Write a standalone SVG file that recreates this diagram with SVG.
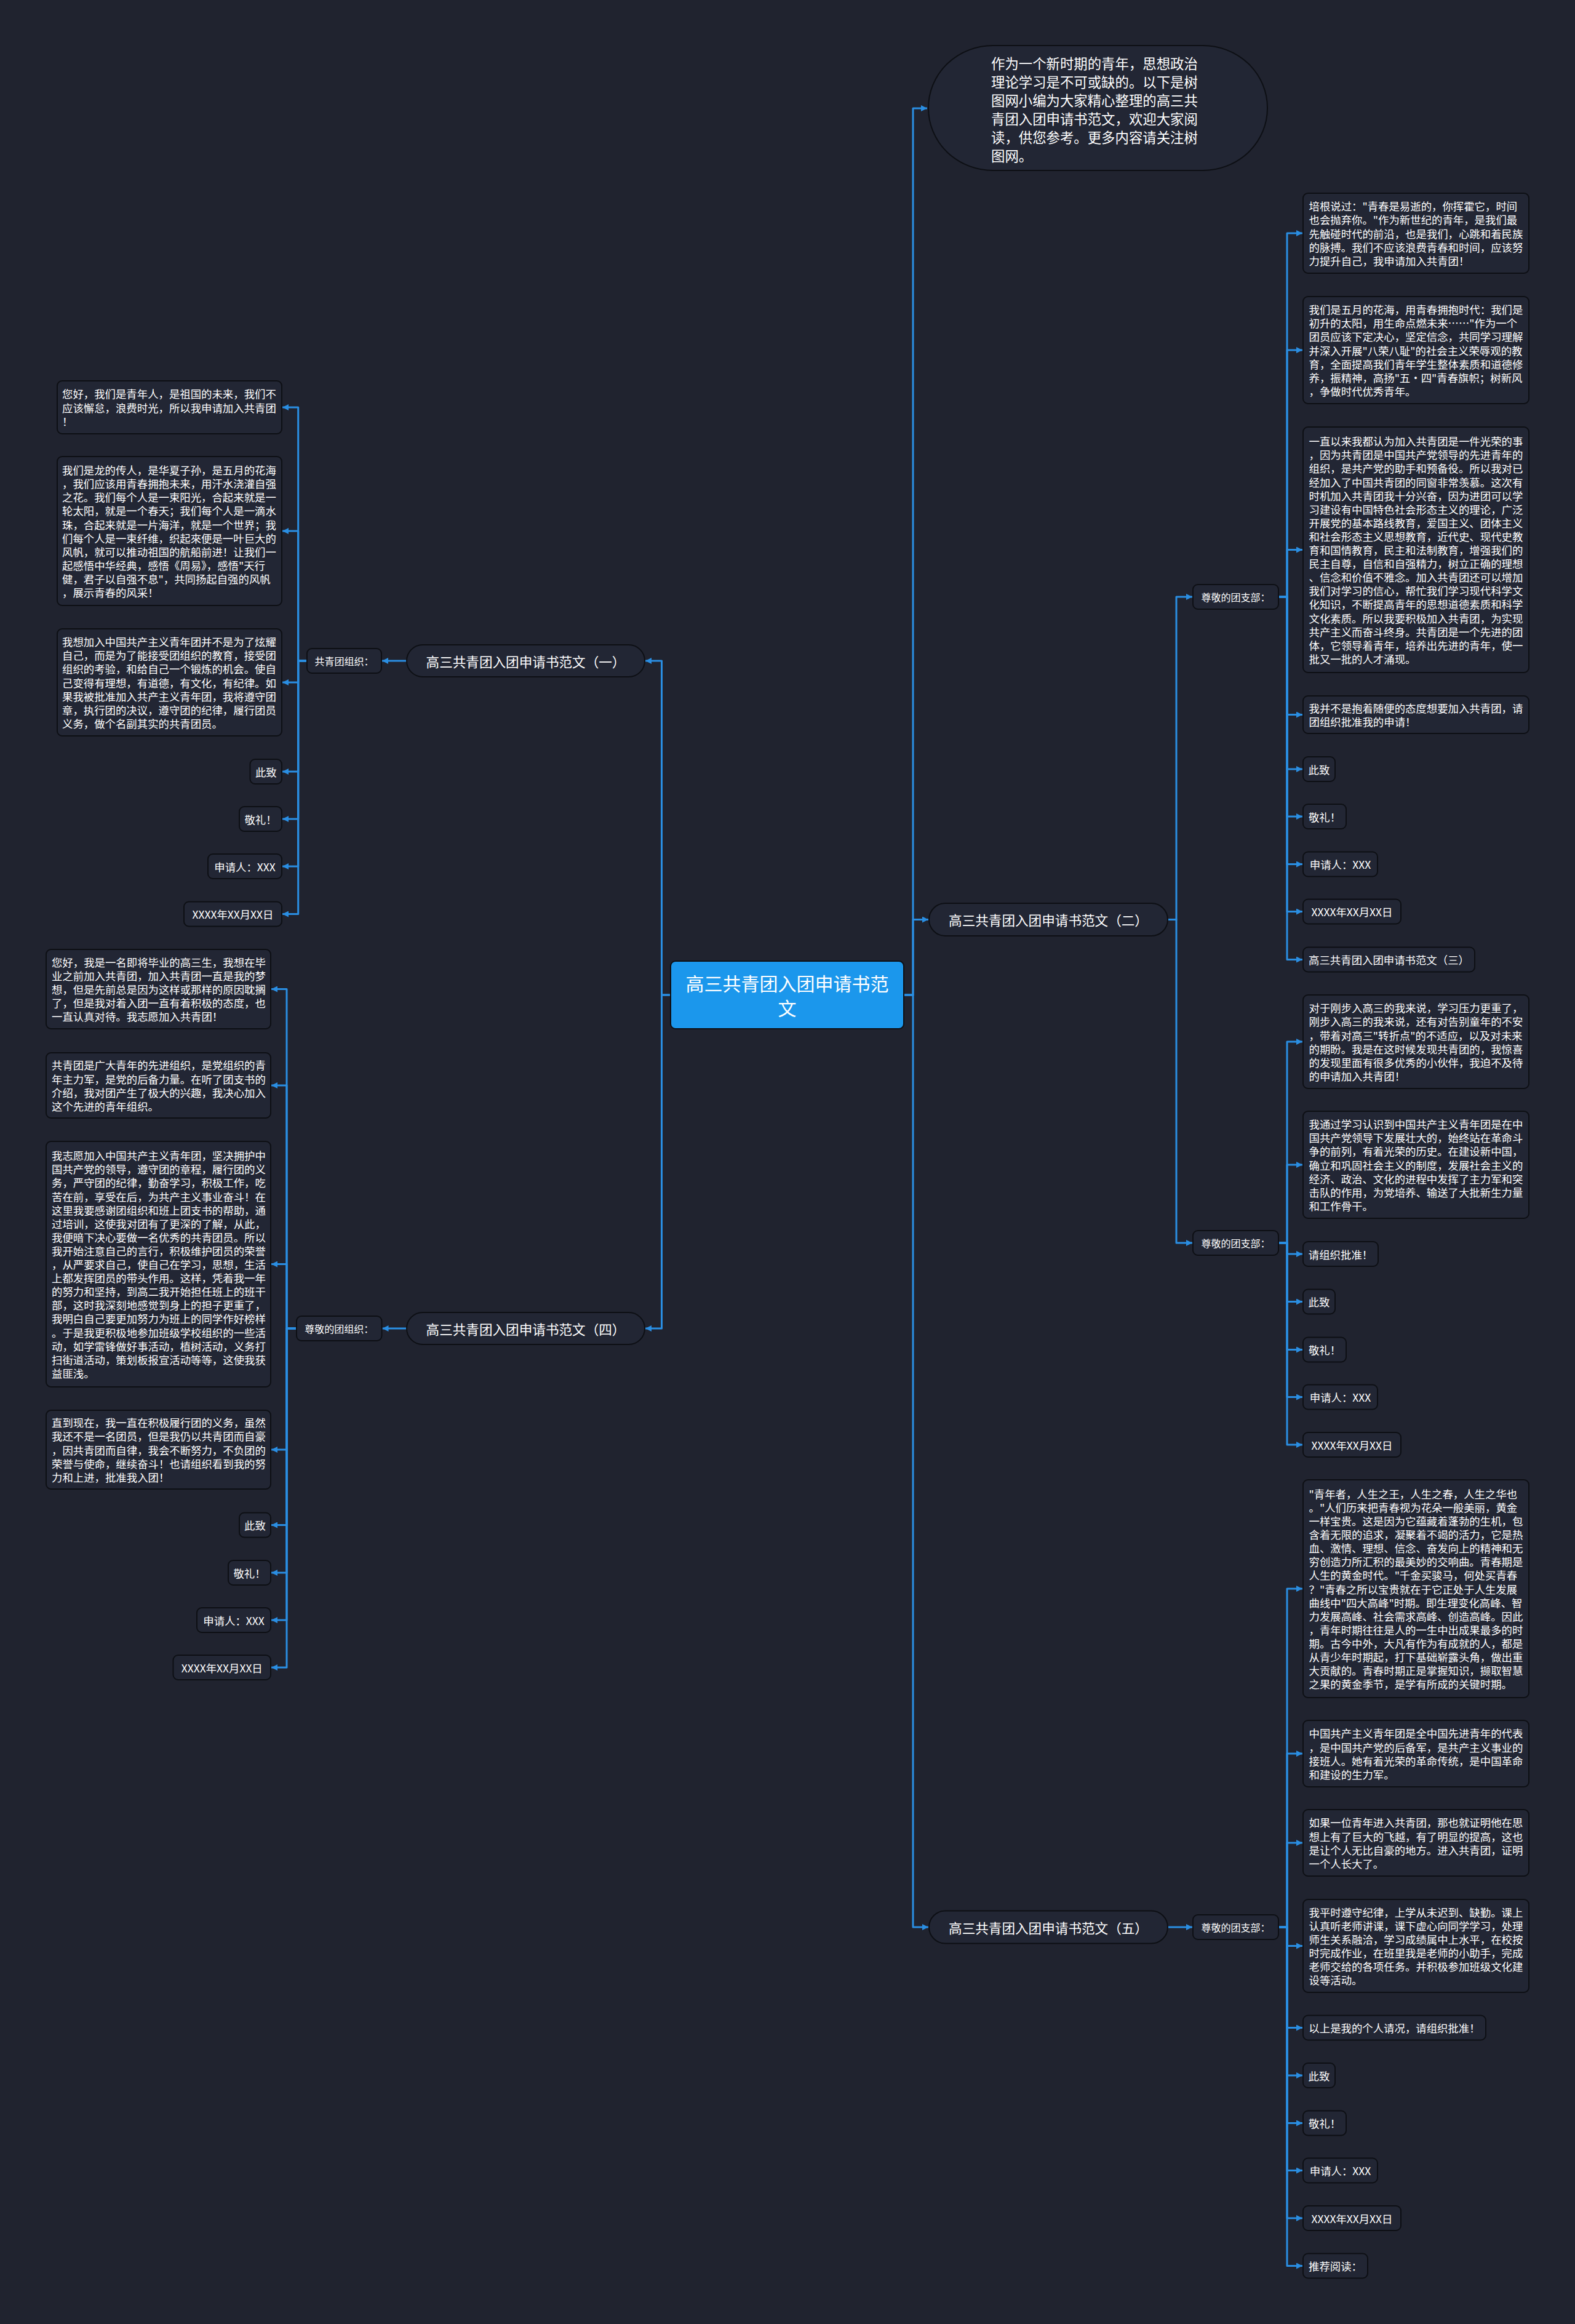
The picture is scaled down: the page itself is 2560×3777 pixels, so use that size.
<svg xmlns="http://www.w3.org/2000/svg" width="2560" height="3777" viewBox="0 0 2560 3777">
<defs>
<marker id="arr" markerUnits="userSpaceOnUse" markerWidth="10" markerHeight="10" refX="10" refY="5" orient="auto"><path d="M0,0 L10,5 L0,10 z" fill="#2a8ee2"/></marker>
<style>
.bx{fill:#222634;stroke:#0d0f14;stroke-width:2}
.t{font-family:"Noto Sans CJK SC","Noto Sans",sans-serif;fill:#ffffff;font-size:17.4px;dominant-baseline:central}
.m{text-anchor:middle}
.s{font-size:16px}
.b{font-size:21.6px}
.c{font-size:30px}
.i{font-size:22.4px}
.ln{fill:none;stroke:#2a8ee2;stroke-width:3;stroke-linejoin:round;marker-end:url(#arr)}
</style>
</defs>
<rect width="2560" height="3777" fill="#20232f"/>

<g id="connectors">
<path class="ln" d="M1469,1617 H1484 V176 H1507"/>
<path class="ln" d="M1469,1617 H1484 V1494.5 H1509"/>
<path class="ln" d="M1469,1617 H1484 V3132 H1509"/>
<path class="ln" d="M1090,1617 H1075.5 V1074 H1049"/>
<path class="ln" d="M1090,1617 H1075.5 V2159 H1049"/>
<path class="ln" d="M661,1074 H621"/>
<path class="ln" d="M499,1074 H484.7 V662 H459"/>
<path class="ln" d="M499,1074 H484.7 V863 H459"/>
<path class="ln" d="M499,1074 H484.7 V1109 H459"/>
<path class="ln" d="M499,1074 H484.7 V1254 H459"/>
<path class="ln" d="M499,1074 H484.7 V1331 H459"/>
<path class="ln" d="M499,1074 H484.7 V1408 H459"/>
<path class="ln" d="M499,1074 H484.7 V1485.5 H459"/>
<path class="ln" d="M661,2159 H621.5"/>
<path class="ln" d="M482,2159 H466 V1607.5 H441"/>
<path class="ln" d="M482,2159 H466 V1764 H441"/>
<path class="ln" d="M482,2159 H466 V2054.5 H441"/>
<path class="ln" d="M482,2159 H466 V2356 H441"/>
<path class="ln" d="M482,2159 H466 V2478.5 H441"/>
<path class="ln" d="M482,2159 H466 V2556 H441"/>
<path class="ln" d="M482,2159 H466 V2633 H441"/>
<path class="ln" d="M482,2159 H466 V2710 H441"/>
<path class="ln" d="M1898,1494.5 H1912 V970 H1938"/>
<path class="ln" d="M1898,1494.5 H1912 V2020 H1938"/>
<path class="ln" d="M2078,970 H2092 V379 H2117"/>
<path class="ln" d="M2078,970 H2092 V569 H2117"/>
<path class="ln" d="M2078,970 H2092 V893.5 H2117"/>
<path class="ln" d="M2078,970 H2092 V1161.5 H2117"/>
<path class="ln" d="M2078,970 H2092 V1250 H2117"/>
<path class="ln" d="M2078,970 H2092 V1327 H2117"/>
<path class="ln" d="M2078,970 H2092 V1404.5 H2117"/>
<path class="ln" d="M2078,970 H2092 V1481.5 H2117"/>
<path class="ln" d="M2078,970 H2092 V1559.5 H2117"/>
<path class="ln" d="M2078,2020 H2092 V1693 H2117"/>
<path class="ln" d="M2078,2020 H2092 V1893 H2117"/>
<path class="ln" d="M2078,2020 H2092 V2038 H2117"/>
<path class="ln" d="M2078,2020 H2092 V2115.5 H2117"/>
<path class="ln" d="M2078,2020 H2092 V2193.5 H2117"/>
<path class="ln" d="M2078,2020 H2092 V2270.5 H2117"/>
<path class="ln" d="M2078,2020 H2092 V2348 H2117"/>
<path class="ln" d="M1898,3132 H1938"/>
<path class="ln" d="M2078,3132 H2092 V2582 H2117"/>
<path class="ln" d="M2078,3132 H2092 V2850 H2117"/>
<path class="ln" d="M2078,3132 H2092 V2995 H2117"/>
<path class="ln" d="M2078,3132 H2092 V3162.5 H2117"/>
<path class="ln" d="M2078,3132 H2092 V3295.5 H2117"/>
<path class="ln" d="M2078,3132 H2092 V3373 H2117"/>
<path class="ln" d="M2078,3132 H2092 V3450.5 H2117"/>
<path class="ln" d="M2078,3132 H2092 V3527.5 H2117"/>
<path class="ln" d="M2078,3132 H2092 V3605 H2117"/>
<path class="ln" d="M2078,3132 H2092 V3682.5 H2117"/>
</g>

<g id="root">
<rect x="1090" y="1562" width="379" height="110" rx="8" fill="#1b97ec" stroke="#0d0f14" stroke-width="2"/>
<text class="t c m" x="1279.5" y="1596.7">高三共青团入团申请书范</text>
<text class="t c m" x="1279.5" y="1636.7">文</text>
</g>

<g id="intro">
<rect class="bx" x="1509" y="74" width="551" height="203" rx="105" ry="101"/>
<text class="t i" x="1611" y="101.7">作为一个新时期的青年，思想政治</text>
<text class="t i" x="1611" y="131.7">理论学习是不可或缺的。以下是树</text>
<text class="t i" x="1611" y="161.7">图网小编为大家精心整理的高三共</text>
<text class="t i" x="1611" y="191.7">青团入团申请书范文，欢迎大家阅</text>
<text class="t i" x="1611" y="221.7">读，供您参考。更多内容请关注树</text>
<text class="t i" x="1611" y="251.7">图网。</text>
</g>

<g id="branch2">
<rect class="bx" x="1510" y="1468" width="388" height="53" rx="26.5"/>
<text class="t b m" x="1704" y="1494.5">高三共青团入团申请书范文（二）</text>
</g>
<g id="b2-sub1">
<rect class="bx" x="1939" y="950" width="139" height="40" rx="8"/>
<text class="t s m" x="2008.5" y="970">尊敬的团支部：</text>
</g>
<g id="b2-n1">
<rect class="bx" x="2118" y="314" width="367" height="130" rx="8"/>
<text class="t" x="2127.5" y="334.8">培根说过："青春是易逝的，你挥霍它，时间</text>
<text class="t" x="2127.5" y="356.9">也会抛弃你。"作为新世纪的青年，是我们最</text>
<text class="t" x="2127.5" y="379">先触碰时代的前沿，也是我们，心跳和着民族</text>
<text class="t" x="2127.5" y="401.1">的脉搏。我们不应该浪费青春和时间，应该努</text>
<text class="t" x="2127.5" y="423.2">力提升自己，我申请加入共青团！</text>
</g>
<g id="b2-n2">
<rect class="bx" x="2118" y="482" width="367" height="174" rx="8"/>
<text class="t" x="2127.5" y="502.7">我们是五月的花海，用青春拥抱时代：我们是</text>
<text class="t" x="2127.5" y="524.8">初升的太阳，用生命点燃未来……"作为一个</text>
<text class="t" x="2127.5" y="546.9">团员应该下定决心，坚定信念，共同学习理解</text>
<text class="t" x="2127.5" y="569">并深入开展"八荣八耻"的社会主义荣辱观的教</text>
<text class="t" x="2127.5" y="591.1">育，全面提高我们青年学生整体素质和道德修</text>
<text class="t" x="2127.5" y="613.2">养，振精神，高扬"五·四"青春旗帜；树新风</text>
<text class="t" x="2127.5" y="635.3">，争做时代优秀青年。</text>
</g>
<g id="b2-n3">
<rect class="bx" x="2118" y="694" width="367" height="399" rx="8"/>
<text class="t" x="2127.5" y="716.7">一直以来我都认为加入共青团是一件光荣的事</text>
<text class="t" x="2127.5" y="738.8">，因为共青团是中国共产党领导的先进青年的</text>
<text class="t" x="2127.5" y="760.9">组织，是共产党的助手和预备役。所以我对已</text>
<text class="t" x="2127.5" y="783">经加入了中国共青团的同窗非常羡慕。这次有</text>
<text class="t" x="2127.5" y="805.1">时机加入共青团我十分兴奋，因为进团可以学</text>
<text class="t" x="2127.5" y="827.2">习建设有中国特色社会形态主义的理论，广泛</text>
<text class="t" x="2127.5" y="849.3">开展党的基本路线教育，爱国主义、团体主义</text>
<text class="t" x="2127.5" y="871.4">和社会形态主义思想教育，近代史、现代史教</text>
<text class="t" x="2127.5" y="893.5">育和国情教育，民主和法制教育，增强我们的</text>
<text class="t" x="2127.5" y="915.6">民主自尊，自信和自强精力，树立正确的理想</text>
<text class="t" x="2127.5" y="937.7">、信念和价值不雅念。加入共青团还可以增加</text>
<text class="t" x="2127.5" y="959.8">我们对学习的信心，帮忙我们学习现代科学文</text>
<text class="t" x="2127.5" y="981.9">化知识，不断提高青年的思想道德素质和科学</text>
<text class="t" x="2127.5" y="1004">文化素质。所以我要积极加入共青团，为实现</text>
<text class="t" x="2127.5" y="1026.1">共产主义而奋斗终身。共青团是一个先进的团</text>
<text class="t" x="2127.5" y="1048.2">体，它领导着青年，培养出先进的青年，使一</text>
<text class="t" x="2127.5" y="1070.3">批又一批的人才涌现。</text>
</g>
<g id="b2-n4">
<rect class="bx" x="2118" y="1131" width="367" height="61" rx="8"/>
<text class="t" x="2127.5" y="1150.5">我并不是抱着随便的态度想要加入共青团，请</text>
<text class="t" x="2127.5" y="1172.6">团组织批准我的申请！</text>
</g>
<g id="b2-n5"><rect class="bx" x="2118" y="1230" width="52" height="40" rx="8"/><text class="t m" x="2144" y="1250">此致</text></g>
<g id="b2-n6"><rect class="bx" x="2118" y="1307" width="70" height="40" rx="8"/><text class="t m" x="2153" y="1327">敬礼！</text></g>
<g id="b2-n7"><rect class="bx" x="2118" y="1384.5" width="121" height="40" rx="8"/><text class="t m" x="2178.5" y="1404.5">申请人：XXX</text></g>
<g id="b2-n8"><rect class="bx" x="2118" y="1461.5" width="159" height="40" rx="8"/><text class="t m" x="2197.5" y="1481.5">XXXX年XX月XX日</text></g>
<g id="b2-n9"><rect class="bx" x="2118" y="1539.5" width="279" height="40" rx="8"/><text class="t m" x="2257.5" y="1559.5">高三共青团入团申请书范文（三）</text></g>

<g id="b2-sub2">
<rect class="bx" x="1939" y="2000" width="139" height="40" rx="8"/>
<text class="t s m" x="2008.5" y="2020">尊敬的团支部：</text>
</g>
<g id="b2-m1">
<rect class="bx" x="2118" y="1617" width="367" height="152" rx="8"/>
<text class="t" x="2127.5" y="1637.8">对于刚步入高三的我来说，学习压力更重了，</text>
<text class="t" x="2127.5" y="1659.9">刚步入高三的我来说，还有对告别童年的不安</text>
<text class="t" x="2127.5" y="1682">，带着对高三"转折点"的不适应，以及对未来</text>
<text class="t" x="2127.5" y="1704">的期盼。我是在这时候发现共青团的，我惊喜</text>
<text class="t" x="2127.5" y="1726.2">的发现里面有很多优秀的小伙伴，我迫不及待</text>
<text class="t" x="2127.5" y="1748.3">的申请加入共青团！</text>
</g>
<g id="b2-m2">
<rect class="bx" x="2118" y="1806" width="367" height="174" rx="8"/>
<text class="t" x="2127.5" y="1826.7">我通过学习认识到中国共产主义青年团是在中</text>
<text class="t" x="2127.5" y="1848.8">国共产党领导下发展壮大的，始终站在革命斗</text>
<text class="t" x="2127.5" y="1870.9">争的前列，有着光荣的历史。在建设新中国，</text>
<text class="t" x="2127.5" y="1893">确立和巩固社会主义的制度，发展社会主义的</text>
<text class="t" x="2127.5" y="1915.1">经济、政治、文化的进程中发挥了主力军和突</text>
<text class="t" x="2127.5" y="1937.2">击队的作用，为党培养、输送了大批新生力量</text>
<text class="t" x="2127.5" y="1959.3">和工作骨干。</text>
</g>
<g id="b2-m3"><rect class="bx" x="2118" y="2018" width="122" height="40" rx="8"/><text class="t m" x="2179" y="2038">请组织批准！</text></g>
<g id="b2-m4"><rect class="bx" x="2118" y="2095.5" width="52" height="40" rx="8"/><text class="t m" x="2144" y="2115.5">此致</text></g>
<g id="b2-m5"><rect class="bx" x="2118" y="2173.5" width="70" height="40" rx="8"/><text class="t m" x="2153" y="2193.5">敬礼！</text></g>
<g id="b2-m6"><rect class="bx" x="2118" y="2250.5" width="121" height="40" rx="8"/><text class="t m" x="2178.5" y="2270.5">申请人：XXX</text></g>
<g id="b2-m7"><rect class="bx" x="2118" y="2328" width="159" height="40" rx="8"/><text class="t m" x="2197.5" y="2348">XXXX年XX月XX日</text></g>

<g id="branch5">
<rect class="bx" x="1510" y="3105.5" width="388" height="53" rx="26.5"/>
<text class="t b m" x="1704" y="3132">高三共青团入团申请书范文（五）</text>
</g>
<g id="b5-sub">
<rect class="bx" x="1939" y="3112" width="139" height="40" rx="8"/>
<text class="t s m" x="2008.5" y="3132">尊敬的团支部：</text>
</g>
<g id="b5-n1">
<rect class="bx" x="2118" y="2405" width="367" height="354" rx="8"/>
<text class="t" x="2127.5" y="2427.3">"青年者，人生之王，人生之春，人生之华也</text>
<text class="t" x="2127.5" y="2449.4">。"人们历来把青春视为花朵一般美丽，黄金</text>
<text class="t" x="2127.5" y="2471.5">一样宝贵。这是因为它蕴藏着蓬勃的生机，包</text>
<text class="t" x="2127.5" y="2493.6">含着无限的追求，凝聚着不竭的活力，它是热</text>
<text class="t" x="2127.5" y="2515.7">血、激情、理想、信念、奋发向上的精神和无</text>
<text class="t" x="2127.5" y="2537.8">穷创造力所汇积的最美妙的交响曲。青春期是</text>
<text class="t" x="2127.5" y="2559.9">人生的黄金时代。"千金买骏马，何处买青春</text>
<text class="t" x="2127.5" y="2582">？"青春之所以宝贵就在于它正处于人生发展</text>
<text class="t" x="2127.5" y="2604.1">曲线中"四大高峰"时期。即生理变化高峰、智</text>
<text class="t" x="2127.5" y="2626.2">力发展高峰、社会需求高峰、创造高峰。因此</text>
<text class="t" x="2127.5" y="2648.3">，青年时期往往是人的一生中出成果最多的时</text>
<text class="t" x="2127.5" y="2670.4">期。古今中外，大凡有作为有成就的人，都是</text>
<text class="t" x="2127.5" y="2692.5">从青少年时期起，打下基础崭露头角，做出重</text>
<text class="t" x="2127.5" y="2714.6">大贡献的。青春时期正是掌握知识，撷取智慧</text>
<text class="t" x="2127.5" y="2736.7">之果的黄金季节，是学有所成的关键时期。</text>
</g>
<g id="b5-n2">
<rect class="bx" x="2118" y="2796" width="367" height="108" rx="8"/>
<text class="t" x="2127.5" y="2816.9">中国共产主义青年团是全中国先进青年的代表</text>
<text class="t" x="2127.5" y="2839">，是中国共产党的后备军，是共产主义事业的</text>
<text class="t" x="2127.5" y="2861.1">接班人。她有着光荣的革命传统，是中国革命</text>
<text class="t" x="2127.5" y="2883.2">和建设的生力军。</text>
</g>
<g id="b5-n3">
<rect class="bx" x="2118" y="2941" width="367" height="108" rx="8"/>
<text class="t" x="2127.5" y="2961.9">如果一位青年进入共青团，那也就证明他在思</text>
<text class="t" x="2127.5" y="2984">想上有了巨大的飞越，有了明显的提高，这也</text>
<text class="t" x="2127.5" y="3006.1">是让个人无比自豪的地方。进入共青团，证明</text>
<text class="t" x="2127.5" y="3028.2">一个人长大了。</text>
</g>
<g id="b5-n4">
<rect class="bx" x="2118" y="3087" width="367" height="151" rx="8"/>
<text class="t" x="2127.5" y="3107.3">我平时遵守纪律，上学从未迟到、缺勤。课上</text>
<text class="t" x="2127.5" y="3129.4">认真听老师讲课，课下虚心向同学学习，处理</text>
<text class="t" x="2127.5" y="3151.5">师生关系融洽，学习成绩属中上水平，在校按</text>
<text class="t" x="2127.5" y="3173.6">时完成作业，在班里我是老师的小助手，完成</text>
<text class="t" x="2127.5" y="3195.7">老师交给的各项任务。并积极参加班级文化建</text>
<text class="t" x="2127.5" y="3217.8">设等活动。</text>
</g>
<g id="b5-n5"><rect class="bx" x="2118" y="3275.5" width="297" height="40" rx="8"/><text class="t m" x="2266.5" y="3295.5">以上是我的个人请况，请组织批准！</text></g>
<g id="b5-n6"><rect class="bx" x="2118" y="3353" width="52" height="40" rx="8"/><text class="t m" x="2144" y="3373">此致</text></g>
<g id="b5-n7"><rect class="bx" x="2118" y="3430.5" width="70" height="40" rx="8"/><text class="t m" x="2153" y="3450.5">敬礼！</text></g>
<g id="b5-n8"><rect class="bx" x="2118" y="3507.5" width="121" height="40" rx="8"/><text class="t m" x="2178.5" y="3527.5">申请人：XXX</text></g>
<g id="b5-n9"><rect class="bx" x="2118" y="3585" width="159" height="40" rx="8"/><text class="t m" x="2197.5" y="3605">XXXX年XX月XX日</text></g>
<g id="b5-n10"><rect class="bx" x="2118" y="3662.5" width="105" height="40" rx="8"/><text class="t m" x="2170.5" y="3682.5">推荐阅读：</text></g>

<g id="branch1">
<rect class="bx" x="661" y="1048" width="387" height="52" rx="26"/>
<text class="t b m" x="854.5" y="1074">高三共青团入团申请书范文（一）</text>
</g>
<g id="b1-sub">
<rect class="bx" x="499" y="1054" width="121" height="40" rx="8"/>
<text class="t s m" x="559.5" y="1074">共青团组织：</text>
</g>
<g id="b1-n1">
<rect class="bx" x="93" y="619" width="365" height="86" rx="8"/>
<text class="t" x="101" y="639.9">您好，我们是青年人，是祖国的未来，我们不</text>
<text class="t" x="101" y="662">应该懈怠，浪费时光，所以我申请加入共青团</text>
<text class="t" x="101" y="684.1">！</text>
</g>
<g id="b1-n2">
<rect class="bx" x="93" y="742" width="365" height="242" rx="8"/>
<text class="t" x="101" y="763.6">我们是龙的传人，是华夏子孙，是五月的花海</text>
<text class="t" x="101" y="785.7">，我们应该用青春拥抱未来，用汗水浇灌自强</text>
<text class="t" x="101" y="807.8">之花。我们每个人是一束阳光，合起来就是一</text>
<text class="t" x="101" y="829.9">轮太阳，就是一个春天；我们每个人是一滴水</text>
<text class="t" x="101" y="852">珠，合起来就是一片海洋，就是一个世界；我</text>
<text class="t" x="101" y="874">们每个人是一束纤维，织起來便是一叶巨大的</text>
<text class="t" x="101" y="896.2">风帆，就可以推动祖国的航船前进！让我们一</text>
<text class="t" x="101" y="918.3">起感悟中华经典，感悟《周易》，感悟"天行</text>
<text class="t" x="101" y="940.4">健，君子以自强不息"，共同扬起自强的风帆</text>
<text class="t" x="101" y="962.5">，展示青春的风采！</text>
</g>
<g id="b1-n3">
<rect class="bx" x="93" y="1022" width="365" height="174" rx="8"/>
<text class="t" x="101" y="1042.7">我想加入中国共产主义青年团并不是为了炫耀</text>
<text class="t" x="101" y="1064.8">自己，而是为了能接受团组织的教育，接受团</text>
<text class="t" x="101" y="1086.9">组织的考验，和给自己一个锻炼的机会。使自</text>
<text class="t" x="101" y="1109">己变得有理想，有道德，有文化，有纪律。如</text>
<text class="t" x="101" y="1131.1">果我被批准加入共产主义青年团，我将遵守团</text>
<text class="t" x="101" y="1153.2">章，执行团的决议，遵守团的纪律，履行团员</text>
<text class="t" x="101" y="1175.3">义务，做个名副其实的共青团员。</text>
</g>
<g id="b1-n4"><rect class="bx" x="406.5" y="1234" width="51.5" height="40" rx="8"/><text class="t m" x="432.3" y="1254">此致</text></g>
<g id="b1-n5"><rect class="bx" x="389" y="1311" width="69" height="40" rx="8"/><text class="t m" x="423.5" y="1331">敬礼！</text></g>
<g id="b1-n6"><rect class="bx" x="338" y="1388" width="120" height="40" rx="8"/><text class="t m" x="398" y="1408">申请人：XXX</text></g>
<g id="b1-n7"><rect class="bx" x="299" y="1465.5" width="159" height="40" rx="8"/><text class="t m" x="378.5" y="1485.5">XXXX年XX月XX日</text></g>

<g id="branch4">
<rect class="bx" x="661" y="2133" width="387" height="52" rx="26"/>
<text class="t b m" x="854.5" y="2159">高三共青团入团申请书范文（四）</text>
</g>
<g id="b4-sub">
<rect class="bx" x="482" y="2139" width="138.5" height="40" rx="8"/>
<text class="t s m" x="551.3" y="2159">尊敬的团组织：</text>
</g>
<g id="b4-n1">
<rect class="bx" x="75" y="1543" width="365" height="129" rx="8"/>
<text class="t" x="84" y="1563.3">您好，我是一名即将毕业的高三生，我想在毕</text>
<text class="t" x="84" y="1585.4">业之前加入共青团，加入共青团一直是我的梦</text>
<text class="t" x="84" y="1607.5">想，但是先前总是因为这样或那样的原因耽搁</text>
<text class="t" x="84" y="1629.6">了，但是我对着入团一直有着积极的态度，也</text>
<text class="t" x="84" y="1651.7">一直认真对待。我志愿加入共青团！</text>
</g>
<g id="b4-n2">
<rect class="bx" x="75" y="1711" width="365" height="106" rx="8"/>
<text class="t" x="84" y="1730.9">共青团是广大青年的先进组织，是党组织的青</text>
<text class="t" x="84" y="1753">年主力军，是党的后备力量。在听了团支书的</text>
<text class="t" x="84" y="1775.1">介绍，我对团产生了极大的兴趣，我决心加入</text>
<text class="t" x="84" y="1797.2">这个先进的青年组织。</text>
</g>
<g id="b4-n3">
<rect class="bx" x="75" y="1855" width="365" height="399" rx="8"/>
<text class="t" x="84" y="1877.7">我志愿加入中国共产主义青年团，坚决拥护中</text>
<text class="t" x="84" y="1899.8">国共产党的领导，遵守团的章程，履行团的义</text>
<text class="t" x="84" y="1921.9">务，严守团的纪律，勤奋学习，积极工作，吃</text>
<text class="t" x="84" y="1944">苦在前，享受在后，为共产主义事业奋斗！在</text>
<text class="t" x="84" y="1966.1">这里我要感谢团组织和班上团支书的帮助，通</text>
<text class="t" x="84" y="1988.2">过培训，这使我对团有了更深的了解，从此，</text>
<text class="t" x="84" y="2010.3">我便暗下决心要做一名优秀的共青团员。所以</text>
<text class="t" x="84" y="2032.4">我开始注意自己的言行，积极维护团员的荣誉</text>
<text class="t" x="84" y="2054.5">，从严要求自己，使自己在学习，思想，生活</text>
<text class="t" x="84" y="2076.6">上都发挥团员的带头作用。这样，凭着我一年</text>
<text class="t" x="84" y="2098.7">的努力和坚持，到高二我开始担任班上的班干</text>
<text class="t" x="84" y="2120.8">部，这时我深刻地感觉到身上的担子更重了，</text>
<text class="t" x="84" y="2142.9">我明白自己要更加努力为班上的同学作好榜样</text>
<text class="t" x="84" y="2165">。于是我更积极地参加班级学校组织的一些活</text>
<text class="t" x="84" y="2187.1">动，如学雷锋做好事活动，植树活动，义务打</text>
<text class="t" x="84" y="2209.2">扫街道活动，策划板报宣活动等等，这使我获</text>
<text class="t" x="84" y="2231.3">益匪浅。</text>
</g>
<g id="b4-n4">
<rect class="bx" x="75" y="2292" width="365" height="128" rx="8"/>
<text class="t" x="84" y="2311.8">直到现在，我一直在积极履行团的义务，虽然</text>
<text class="t" x="84" y="2333.9">我还不是一名团员，但是我仍以共青团而自豪</text>
<text class="t" x="84" y="2356">，因共青团而自律，我会不断努力，不负团的</text>
<text class="t" x="84" y="2378.1">荣誉与使命，继续奋斗！也请组织看到我的努</text>
<text class="t" x="84" y="2400.2">力和上进，批准我入团！</text>
</g>
<g id="b4-n5"><rect class="bx" x="389" y="2458.5" width="51" height="40" rx="8"/><text class="t m" x="414.5" y="2478.5">此致</text></g>
<g id="b4-n6"><rect class="bx" x="371" y="2536" width="69" height="40" rx="8"/><text class="t m" x="405.5" y="2556">敬礼！</text></g>
<g id="b4-n7"><rect class="bx" x="320" y="2613" width="120" height="40" rx="8"/><text class="t m" x="380" y="2633">申请人：XXX</text></g>
<g id="b4-n8"><rect class="bx" x="281.5" y="2690" width="158.5" height="40" rx="8"/><text class="t m" x="360.8" y="2710">XXXX年XX月XX日</text></g>
</svg>
